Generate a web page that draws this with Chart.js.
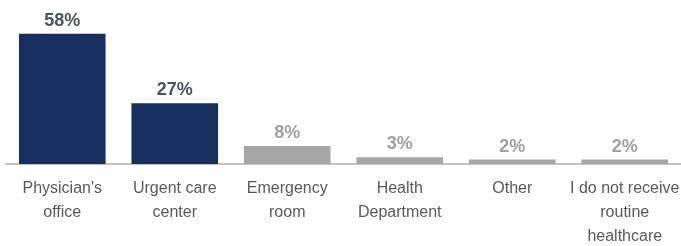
<!DOCTYPE html>
<html>
<head>
<meta charset="utf-8">
<script src="https://cdn.jsdelivr.net/npm/chart.js@4/dist/chart.umd.min.js"></script>
<style>
  html, body { margin: 0; padding: 0; background: #fff; }
  #wrap { width: 681px; height: 246px; position: relative; }
</style>
</head>
<body>
<div id="wrap"><canvas id="c"></canvas></div>
<script>
const categories = [
  ["Physician's", "office"],
  ["Urgent care", "center"],
  ["Emergency", "room"],
  ["Health", "Department"],
  ["Other"],
  ["I do not receive", "routine", "healthcare"]
];
const values = [58, 27, 8, 3, 2, 2];
const barColors = ["#172f5e", "#172f5e", "#a6a6a6", "#a6a6a6", "#a6a6a6", "#a6a6a6"];
const labelColors = ["#4b5260", "#4b5260", "#a0a0a0", "#a0a0a0", "#a0a0a0", "#a0a0a0"];

const valueLabels = {
  id: 'valueLabels',
  afterDatasetsDraw(chart) {
    const ctx = chart.ctx;
    const meta = chart.getDatasetMeta(0);
    ctx.save();
    ctx.font = 'bold 18px "Liberation Sans", Arial, sans-serif';
    ctx.textAlign = 'center';
    ctx.textBaseline = 'alphabetic';
    meta.data.forEach((bar, i) => {
      ctx.fillStyle = labelColors[i];
      ctx.fillText(values[i] + '%', bar.x, bar.y - 8);
    });
    ctx.restore();
  }
};

new Chart(document.getElementById('c'), {
  type: 'bar',
  data: {
    labels: categories,
    datasets: [{
      data: values,
      backgroundColor: barColors,
      borderWidth: 0,
      categoryPercentage: 1,
      barPercentage: 0.77
    }]
  },
  options: {
    responsive: true,
    maintainAspectRatio: false,
    animation: false,
    layout: { padding: { left: 6, right: 0, top: 0, bottom: -16 } },
    plugins: { legend: { display: false }, tooltip: { enabled: false } },
    scales: {
      x: {
        grid: { display: false, drawTicks: false },
        border: { display: true, color: '#c4c4c4', width: 2 },
        afterFit(scale) { scale.paddingLeft = 0; scale.paddingRight = 0; },
        ticks: {
          color: '#595959',
          padding: 13,
          maxRotation: 0,
          autoSkip: false,
          font: { family: '"Liberation Sans", Arial, sans-serif', size: 16, lineHeight: 1.5 }
        }
      },
      y: {
        display: false,
        min: 0,
        max: 73
      }
    }
  },
  plugins: [valueLabels]
});
</script>
</body>
</html>
